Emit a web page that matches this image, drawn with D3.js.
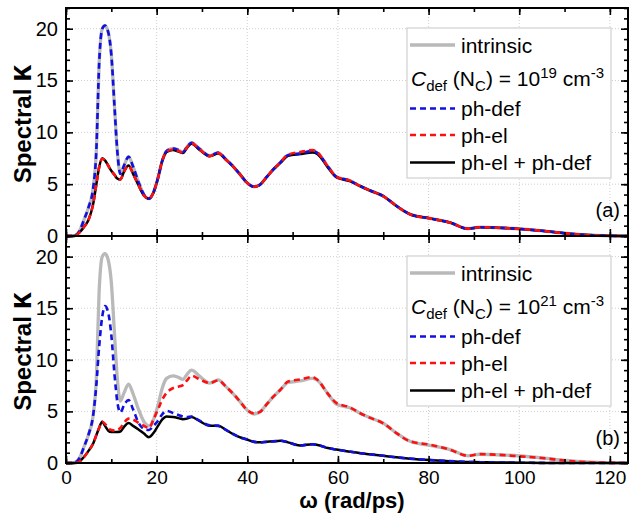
<!DOCTYPE html>
<html>
<head>
<meta charset="utf-8">
<script src="https://cdn.jsdelivr.net/npm/d3@7"></script>
<style>
  body { margin: 0; background: #fff; }
  svg { display: block; font-family: "Liberation Sans", Arial, sans-serif; }
</style>
</head>
<body>
<svg id="chart"></svg>
<script>
const width = 632;
const height = 519;

// frequency grid (rad/ps)
const omega = [0, 1.5, 2, 3, 4, 5, 6, 6.7, 7.3, 8, 8.6, 9.3, 10, 10.7, 11.3, 12, 12.8,
  13.8, 14.8, 16, 17.2, 18.3, 19.3, 20.3, 21.2, 22.2, 23.6, 24.8, 25.8, 26.7, 27.7, 29.5,
  31.7, 33.6, 35.3, 36.9, 38.3, 39.8, 41.5, 42.8, 44.3, 45.7, 47.3, 49, 51.6, 54.4, 55.5,
  57.8, 59.7, 62.6, 65, 67, 70, 72.9, 75.9, 80.3, 84.7, 88.7, 91.3, 95, 100.2, 105,
  110.5, 115, 119.5, 124];

const intrinsic = [0, 0, 0.05, 0.5, 1.6, 2.8, 4.65, 8.3, 16.5, 20.0, 20.3, 19.7, 17.5,
  12.5, 8.3, 6.0, 6.8, 7.65, 6.7, 5.2, 4.0, 3.6, 4.2, 5.6, 7.2, 8.2, 8.45, 8.3, 8.1,
  8.6, 9.0, 8.4, 7.75, 8.05, 7.4, 6.7, 6.0, 5.2, 4.75, 4.95, 5.7, 6.4, 7.1, 7.8, 7.95,
  8.2, 8.0, 6.7, 5.7, 5.35, 4.8, 4.4, 3.85, 2.9, 2.1, 1.7, 1.3, 0.7, 0.85, 0.8, 0.68,
  0.5, 0.25, 0.1, 0.02, 0];

// (a) C_def = 1e19
const phDefA = [0, 0, 0.05, 0.5, 1.6, 2.8, 4.65, 8.3, 16.5, 20.0, 20.3, 19.7, 17.5,
  12.5, 8.3, 6.0, 6.8, 7.65, 6.7, 5.2, 4.0, 3.6, 4.2, 5.6, 7.2, 8.2, 8.45, 8.3, 8.1,
  8.6, 9.0, 8.4, 7.75, 8.05, 7.4, 6.7, 6.0, 5.2, 4.75, 4.95, 5.7, 6.4, 7.1, 7.8, 7.95,
  8.2, 8.0, 6.7, 5.7, 5.35, 4.8, 4.4, 3.85, 2.9, 2.1, 1.7, 1.3, 0.7, 0.85, 0.8, 0.68,
  0.5, 0.25, 0.1, 0.02, 0];
const phElA = [0, 0, 0.02, 0.35, 0.9, 1.6, 3.1, 5.0, 6.6, 7.45, 7.3, 6.8, 6.3, 5.9,
  5.55, 5.45, 6.2, 6.8, 6.0, 4.9, 3.9, 3.6, 4.2, 5.6, 7.2, 8.15, 8.35, 8.2, 8.05, 8.55,
  8.95, 8.35, 7.7, 8.0, 7.35, 6.7, 6.0, 5.2, 4.75, 4.95, 5.7, 6.4, 7.1, 7.85, 8.1, 8.3,
  8.05, 6.7, 5.7, 5.35, 4.8, 4.4, 3.85, 2.9, 2.1, 1.7, 1.3, 0.7, 0.85, 0.8, 0.68, 0.5,
  0.25, 0.1, 0.02, 0];
const bothA = [0, 0, 0.02, 0.35, 0.9, 1.6, 3.1, 5.0, 6.6, 7.5, 7.3, 6.8, 6.3, 5.9,
  5.55, 5.45, 6.2, 6.8, 6.0, 4.9, 3.9, 3.6, 4.2, 5.6, 7.2, 8.1, 8.3, 8.15, 8.0, 8.5,
  8.9, 8.3, 7.7, 7.95, 7.35, 6.7, 6.0, 5.2, 4.75, 4.95, 5.7, 6.4, 7.05, 7.75, 7.9, 8.05,
  7.9, 6.6, 5.65, 5.3, 4.8, 4.4, 3.85, 2.9, 2.1, 1.7, 1.3, 0.7, 0.85, 0.8, 0.68, 0.5,
  0.25, 0.1, 0.02, 0];

// (b) C_def = 1e21
const phDefB = [0, 0, 0.05, 0.5, 1.6, 2.8, 4.65, 7.6, 11.2, 14.2, 15.2, 14.6, 12.4,
  8.6, 6.0, 4.9, 5.6, 6.1, 5.2, 3.9, 3.3, 3.2, 3.6, 4.1, 4.7, 5.05, 4.85, 4.65, 4.5,
  4.45, 4.5, 4.1, 3.65, 3.6, 3.2, 2.8, 2.5, 2.3, 2.05, 2.0, 2.05, 2.1, 2.15, 2.0, 1.7,
  1.82, 1.75, 1.45, 1.3, 1.1, 0.95, 0.85, 0.7, 0.55, 0.42, 0.28, 0.18, 0.1, 0.08, 0.05,
  0.03, 0.01, 0, 0, 0, 0];
const phElB = [0, 0, 0, 0.15, 0.6, 1.2, 1.9, 2.7, 3.4, 4.0, 3.8, 3.4, 3.2, 3.15, 3.2,
  3.4, 3.9, 4.3, 4.2, 3.9, 3.6, 3.4, 4.2, 5.2, 6.1, 6.8, 7.25, 7.4, 7.55, 8.0, 8.45,
  8.1, 7.75, 8.0, 7.4, 6.7, 6.0, 5.2, 4.8, 4.95, 5.7, 6.4, 7.1, 7.9, 8.1, 8.33, 8.05,
  6.7, 5.8, 5.4, 4.8, 4.4, 3.85, 2.9, 2.1, 1.77, 1.29, 0.7, 0.86, 0.8, 0.64, 0.48, 0.22,
  0.08, 0.02, 0];
const bothB = [0, 0, 0, 0.15, 0.6, 1.2, 1.9, 2.7, 3.4, 4.0, 3.6, 3.15, 3.0, 3.0, 3.0,
  3.05, 3.5, 3.87, 3.6, 3.25, 2.85, 2.5, 2.9, 3.6, 4.2, 4.5, 4.45, 4.35, 4.25, 4.3,
  4.45, 4.05, 3.6, 3.6, 3.2, 2.8, 2.5, 2.3, 2.05, 2.0, 2.05, 2.1, 2.15, 2.0, 1.7, 1.82,
  1.75, 1.45, 1.3, 1.1, 0.95, 0.85, 0.7, 0.55, 0.42, 0.28, 0.18, 0.1, 0.08, 0.05, 0.03,
  0.01, 0, 0, 0, 0];

const xTicks = [0, 20, 40, 60, 80, 100, 120];
const yTicks = [0, 5, 10, 15, 20];
const panelLabels = ['(a)', '(b)'];
const cdefExponents = ['19', '21'];

const styles = {
  'intrinsic': { color: '#b9b9b9', w: 3.3, dash: null },
  'ph-def': { color: '#1010e0', w: 2.6, dash: '6,4' },
  'ph-el': { color: '#ff1010', w: 2.6, dash: '6,4' },
  'ph-el + ph-def': { color: '#000000', w: 2.5, dash: null }
};

const svg = d3.select('#chart').attr('width', width).attr('height', height);

const left = 66, right = 628;
const panelTops = [8, 236];
const panelBottoms = [236, 463];

const x = d3.scaleLinear().domain([0, 124]).range([left, right]);

const panels = [
  { 'intrinsic': intrinsic, 'ph-def': phDefA, 'ph-el': phElA, 'ph-el + ph-def': bothA },
  { 'intrinsic': intrinsic, 'ph-def': phDefB, 'ph-el': phElB, 'ph-el + ph-def': bothB }
];

// draw order: gray, black, blue, red
const drawOrder = ['intrinsic', 'ph-el + ph-def', 'ph-def', 'ph-el'];

panels.forEach((series, i) => {
  const top = panelTops[i], bottom = panelBottoms[i];
  const y = d3.scaleLinear().domain([0, 22]).range([bottom, top]);
  const g = svg.append('g');

  // grid
  g.selectAll('.vgrid').data(xTicks.filter(t => t > 0))
    .enter().append('line')
    .attr('x1', d => x(d)).attr('x2', d => x(d))
    .attr('y1', top).attr('y2', bottom)
    .attr('stroke', '#cfcfcf').attr('stroke-width', 1).attr('stroke-dasharray', '1,2');
  g.selectAll('.hgrid').data(yTicks.filter(t => t > 0))
    .enter().append('line')
    .attr('x1', left).attr('x2', right)
    .attr('y1', d => y(d)).attr('y2', d => y(d))
    .attr('stroke', '#cfcfcf').attr('stroke-width', 1).attr('stroke-dasharray', '1,2');

  // curves
  const line = d3.line()
    .x((d, k) => x(omega[k]))
    .y(d => y(d))
    .curve(d3.curveMonotoneX);

  drawOrder.forEach(name => {
    const s = styles[name];
    g.append('path')
      .datum(series[name])
      .attr('fill', 'none')
      .attr('stroke', s.color)
      .attr('stroke-width', s.w)
      .attr('stroke-dasharray', s.dash)
      .attr('stroke-linejoin', 'round')
      .attr('d', line);
  });

  // axes (ticks pointing inward)
  const yMinor = d3.range(0, 23, 1);
  const xMinor = d3.range(0, 125, 10);

  const leftAxis = g.append('g').attr('transform', `translate(${left},0)`)
    .call(d3.axisLeft(y).tickValues(yTicks).tickSize(-7).tickSizeOuter(0).tickPadding(8));
  g.append('g').attr('transform', `translate(${left},0)`)
    .call(d3.axisLeft(y).tickValues(yMinor).tickSize(-4).tickSizeOuter(0).tickFormat(''));
  g.append('g').attr('transform', `translate(${right},0)`)
    .call(d3.axisRight(y).tickValues(yTicks).tickSize(-7).tickSizeOuter(0).tickFormat(''));
  g.append('g').attr('transform', `translate(${right},0)`)
    .call(d3.axisRight(y).tickValues(yMinor).tickSize(-4).tickSizeOuter(0).tickFormat(''));
  g.append('g').attr('transform', `translate(0,${top})`)
    .call(d3.axisTop(x).tickValues(xTicks).tickSize(-7).tickSizeOuter(0).tickFormat(''));
  g.append('g').attr('transform', `translate(0,${top})`)
    .call(d3.axisTop(x).tickValues(xMinor).tickSize(-4).tickSizeOuter(0).tickFormat(''));
  const bottomAxis = g.append('g').attr('transform', `translate(0,${bottom})`)
    .call(d3.axisBottom(x).tickValues(xTicks).tickSize(-7).tickSizeOuter(0).tickPadding(8));
  g.append('g').attr('transform', `translate(0,${bottom})`)
    .call(d3.axisBottom(x).tickValues(xMinor).tickSize(-4).tickSizeOuter(0).tickFormat(''));

  g.selectAll('.domain').remove();
  g.selectAll('.tick line').attr('stroke', '#000').attr('stroke-width', 1.6);

  leftAxis.selectAll('text').attr('font-size', 20).attr('fill', '#000')
    .attr('font-family', '"Liberation Sans", Arial, sans-serif');
  if (i === 0) bottomAxis.selectAll('text').remove();
  else bottomAxis.selectAll('text').attr('font-size', 19).attr('fill', '#000')
    .attr('font-family', '"Liberation Sans", Arial, sans-serif');

  // frame
  g.append('rect')
    .attr('x', left).attr('y', top)
    .attr('width', right - left).attr('height', bottom - top)
    .attr('fill', 'none').attr('stroke', '#000').attr('stroke-width', 2);

  // y title
  const yt = g.append('text')
    .attr('transform', `translate(31,${(top + bottom) / 2 + 2}) rotate(-90)`)
    .attr('text-anchor', 'middle')
    .attr('font-size', 24).attr('font-weight', 'bold');
  yt.append('tspan').text('Spectral ');
  yt.append('tspan').attr('font-size', 31).text('κ');

  // panel label
  g.append('text')
    .attr('x', 620).attr('y', top + 209)
    .attr('text-anchor', 'end')
    .attr('font-size', 20)
    .text(panelLabels[i]);

  // legend
  const lg = g.append('g').attr('transform', `translate(0,${top})`);
  lg.append('rect')
    .attr('x', 407).attr('y', 20).attr('width', 204).attr('height', 150)
    .attr('fill', '#fff').attr('stroke', '#d0d0d0').attr('stroke-width', 1.2);

  const rows = [
    { name: 'intrinsic', y: 37 },
    { name: 'ph-def', y: 100.5 },
    { name: 'ph-el', y: 127 },
    { name: 'ph-el + ph-def', y: 154.5 }
  ];
  rows.forEach(r => {
    const s = styles[r.name];
    lg.append('line')
      .attr('x1', 410).attr('x2', 455)
      .attr('y1', r.y).attr('y2', r.y)
      .attr('stroke', s.color).attr('stroke-width', s.w)
      .attr('stroke-dasharray', s.dash);
    lg.append('text')
      .attr('x', 461).attr('y', r.y + 7.5)
      .attr('font-size', 21)
      .text(r.name);
  });

  const cdef = lg.append('text').attr('x', 411).attr('y', 78).attr('font-size', 21);
  cdef.append('tspan').attr('font-style', 'italic').text('C');
  cdef.append('tspan').attr('font-size', 15).attr('dy', 5).text('def');
  cdef.append('tspan').attr('dy', -5).text(' (N');
  cdef.append('tspan').attr('font-size', 15).attr('dy', 5).text('C');
  cdef.append('tspan').attr('dy', -5).text(') = 10');
  cdef.append('tspan').attr('font-size', 15).attr('dy', -8).text(cdefExponents[i]);
  cdef.append('tspan').attr('dy', 8).text(' cm');
  cdef.append('tspan').attr('font-size', 15).attr('dy', -8).text('-3');
});

// x title
svg.append('text')
  .attr('x', 352).attr('y', 508)
  .attr('text-anchor', 'middle')
  .attr('font-size', 22).attr('font-weight', 'bold')
  .text('ω (rad/ps)');
</script>
</body>
</html>
